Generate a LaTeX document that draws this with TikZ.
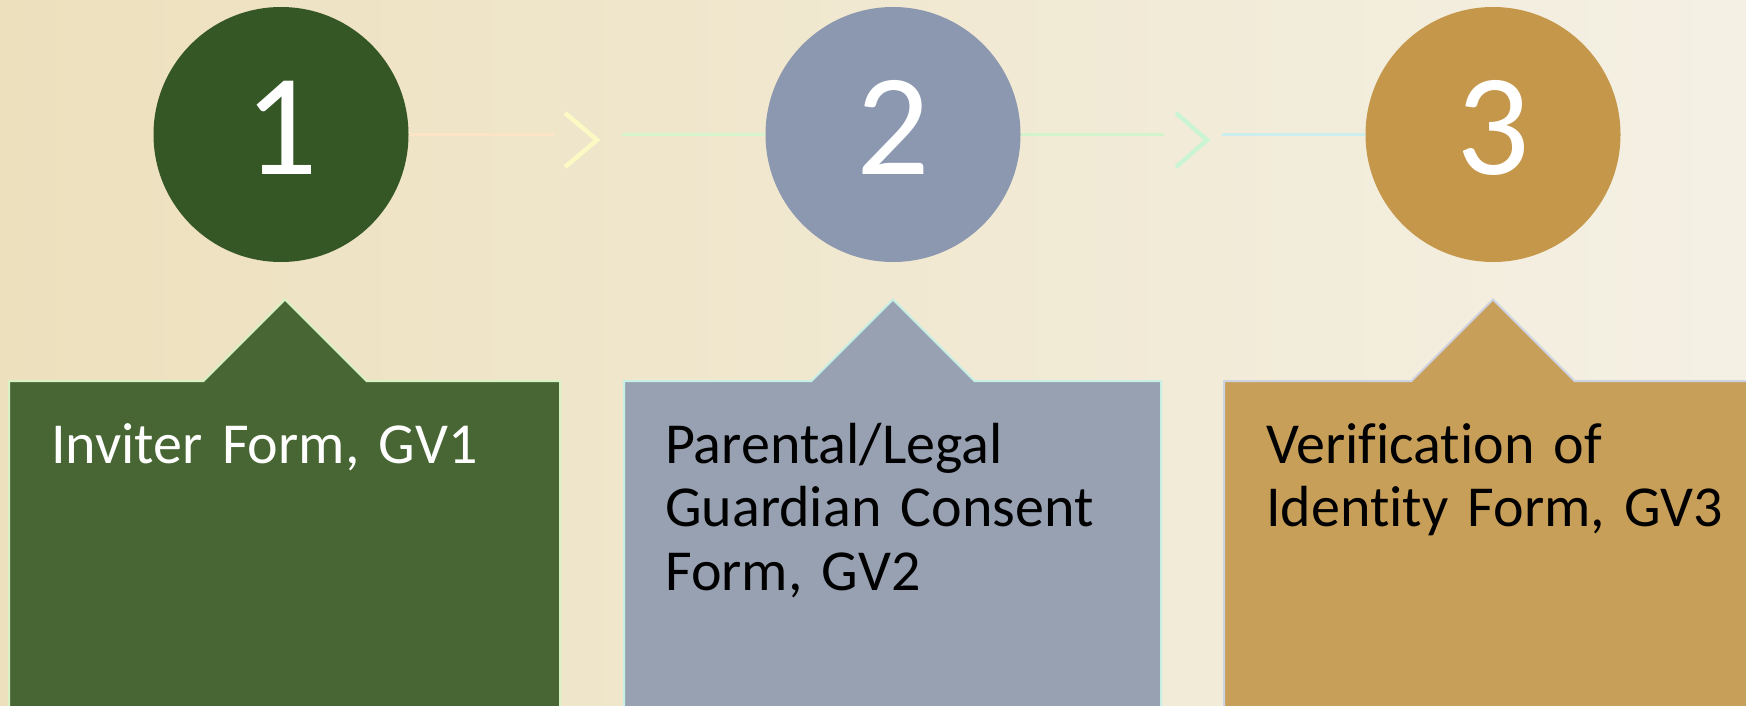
\documentclass[tikz,border=0pt]{standalone}
\usepackage{fontspec}
\setmainfont{Carlito}[Ligatures=NoCommon]
\definecolor{bgL}{HTML}{EDE0BD}
\definecolor{bgR}{HTML}{F4F0E4}
\definecolor{circA}{HTML}{355726}
\definecolor{circB}{HTML}{8B98B0}
\definecolor{circC}{HTML}{C5974A}
\definecolor{boxA}{HTML}{486633}
\definecolor{boxB}{HTML}{98A1B2}
\definecolor{boxC}{HTML}{C79F59}
\definecolor{edgeA}{HTML}{D8F2C6}
\definecolor{edgeB}{HTML}{C6EFE6}
\definecolor{edgeC}{HTML}{CDD3E3}
\definecolor{lineA}{HTML}{FCE4C6}
\definecolor{chevA}{HTML}{FCF9C4}
\definecolor{lineB}{HTML}{D6F5CE}
\definecolor{lineC}{HTML}{D2F4CC}
\definecolor{chevB}{HTML}{CBF4D5}
\definecolor{lineD}{HTML}{CCEEEE}
\tikzset{
  stepcircle/.style={circle, minimum size=255pt, inner sep=0pt, draw=none},
  digit/.style={anchor=base, inner sep=0pt, text=white, font=\fontsize{145}{150}\selectfont},
  boxtext/.style={anchor=north west, inner sep=0pt, align=left, text width=470pt,
     font=\fontsize{58}{63.5}\selectfont\frenchspacing},
  conn/.style={line width=3pt},
  chev/.style={line width=4.5pt, line cap=butt, line join=miter},
  boxshape/.style={line width=2pt}
}
\begin{document}
\begin{tikzpicture}[x=1pt,y=-1pt]
\useasboundingbox (0,0) rectangle (1746,706);
\clip (0,0) rectangle (1746,706);
\shade[left color=bgL, right color=bgR] (0,0) rectangle (1746,706);

% boxes with pointer
\path[boxshape, fill=boxA, draw=edgeA] (9,720) -- (9,381) -- (203.5,381) -- (285,299.5) -- (366.5,381) -- (560,381) -- (560,720);
\path[boxshape, fill=boxB, draw=edgeB] (624,720) -- (624,381) -- (811.5,381) -- (893,299.5) -- (974.5,381) -- (1161,381) -- (1161,720);
\path[boxshape, fill=boxC, draw=edgeC] (1224,720) -- (1224,381) -- (1411.5,381) -- (1493,299.5) -- (1574.5,381) -- (1770,381) -- (1770,720);

\node[boxtext, text=white] (t1) at (51,418.5) {\strut Inviter Form, GV1};
\node[boxtext, text=black] (t2) at (665,418.5) {\strut Parental/Legal\\Guardian Consent\\Form, GV2};
\node[boxtext, text=black] (t3) at (1266,418.5) {\strut Verification of\\Identity Form, GV3};

% circles
\node[stepcircle, fill=circA] (c1) at (281,134.5) {};
\node[stepcircle, fill=circB] (c2) at (893,134.5) {};
\node[stepcircle, fill=circC] (c3) at (1493,134.5) {};
\node[digit] (d1) at ([yshift=-40.5pt]c1.center) {1};
\node[digit] (d2) at ([yshift=-40.5pt]c2.center) {2};
\node[digit] (d3) at ([yshift=-40.5pt]c3.center) {3};

% connectors
\coordinate (a1) at (554,134.5);
\coordinate (k1t) at (565,113);
\coordinate (k1p) at (597,140);
\coordinate (k1b) at (565,167);
\coordinate (b1) at (622,134.5);
\coordinate (a2) at (1164,134.5);
\coordinate (k2t) at (1176,113);
\coordinate (k2p) at (1207,140);
\coordinate (k2b) at (1176,167);
\coordinate (b2) at (1222,134.5);

\draw[conn, lineA] (c1.east) -- (a1);
\draw[chev, chevA] (k1t) -- (k1p) -- (k1b);
\draw[conn, lineB] (b1) -- (c2.west);
\draw[conn, lineC] (c2.east) -- (a2);
\draw[chev, chevB] (k2t) -- (k2p) -- (k2b);
\draw[conn, lineD] (b2) -- (c3.west);
\end{tikzpicture}
\end{document}
